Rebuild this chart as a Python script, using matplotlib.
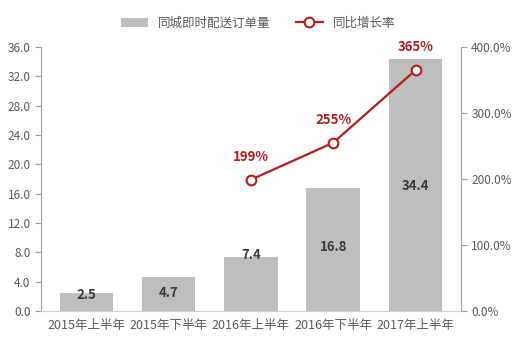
import matplotlib.pyplot as plt
import numpy as np

plt.rcParams['font.family'] = ['Noto Sans CJK SC', 'DejaVu Sans']

periods = ['2015年上半年', '2015年下半年', '2016年上半年', '2016年下半年', '2017年上半年']
orders = [2.5, 4.7, 7.4, 16.8, 34.4]
label_y = [2.2, 2.5, 7.6, 8.7, 17.1]
growth = [np.nan, np.nan, 199, 255, 365]

bar_color = '#bfbebf'
line_color = '#b51c1c'
text_gray = '#595959'

fig = plt.figure(figsize=(5.16, 3.54), dpi=100)
ax = fig.add_axes([0.0795, 0.1215, 0.8135, 0.7455])
x = np.arange(len(periods))

bars = ax.bar(x, orders, width=0.65, color=bar_color, label='同城即时配送订单量', zorder=2)
for xi, v, ly in zip(x, orders, label_y):
    ax.text(xi, ly, f'{v:.1f}', ha='center', va='center', fontsize=9.5,
            fontweight='bold', color='#3a3a3a', zorder=3)

ax.set_ylim(0, 36)
ax.set_yticks(np.arange(0, 36.1, 4))
ax.set_yticklabels([f'{t:.1f}' for t in np.arange(0, 36.1, 4)])
ax.set_xlim(-0.55, 4.55)
ax.set_xticks(x)
ax.set_xticklabels(periods)
ax.tick_params(axis='x', length=0, labelsize=9, colors=text_gray, pad=6)
ax.tick_params(axis='y', length=4, labelsize=8.5, colors='#a0a0a0', labelcolor=text_gray)
for s in ['top', 'right']:
    ax.spines[s].set_visible(False)
ax.spines['left'].set_color('#a0a0a0')
ax.spines['bottom'].set_color('#d0d0d0')

ax2 = ax.twinx()
ln, = ax2.plot(x, growth, color=line_color, lw=1.6, marker='o', ms=7,
               mfc='white', mec=line_color, mew=1.5, label='同比增长率', zorder=4)
for xi, g in zip(x, growth):
    if not np.isnan(g):
        ax2.text(xi, g + 24, f'{int(g)}%', ha='center', va='bottom', fontsize=9.5,
                 fontweight='bold', color=line_color)
ax2.set_ylim(0, 400)
ax2.set_yticks(np.arange(0, 401, 100))
ax2.set_yticklabels([f'{t:.1f}%' for t in np.arange(0, 401, 100)])
ax2.tick_params(axis='y', length=4, labelsize=8.5, colors='#a0a0a0', labelcolor=text_gray)
for s in ['top', 'left', 'bottom']:
    ax2.spines[s].set_visible(False)
ax2.spines['right'].set_color('#a0a0a0')

fig.legend(handles=[bars, ln], loc='upper center', bbox_to_anchor=(0.5, 0.985), ncol=2,
           frameon=False, fontsize=9, handlelength=2.2, columnspacing=2.0,
           labelcolor=text_gray)

fig.savefig('out.png', dpi=100)
